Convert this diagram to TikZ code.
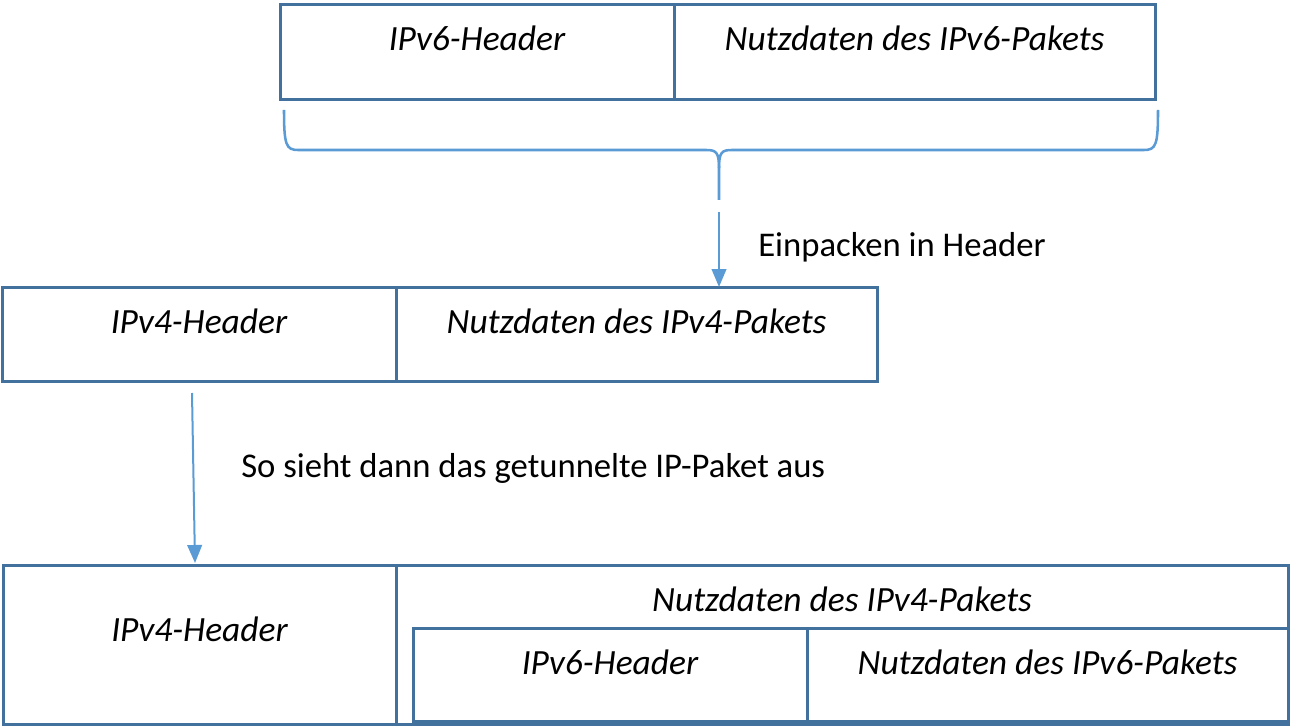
\documentclass[tikz,border=0pt]{standalone}
\usepackage{fontspec}
\setmainfont{Carlito}
\usepackage{tikz}
\usetikzlibrary{arrows.meta}
\usetikzlibrary{positioning}
\definecolor{rahmenblau}{RGB}{65,113,156}
\definecolor{pfeilblau}{RGB}{91,155,213}
\tikzset{
    feld/.style={draw=rahmenblau, line width=2.25pt, inner sep=0pt, outer sep=0pt,
        anchor=north west, text height=34.5pt, font=\fontsize{26.6}{31}\selectfont\itshape},
    kopf/.style={feld, minimum width=295.5pt},
    daten/.style={feld, minimum width=360.75pt},
    klammer/.style={draw=pfeilblau, line width=1.9pt},
    pfeil/.style={draw=pfeilblau, line width=1.5pt, -{Triangle[length=13.5pt,width=11pt]}},
    notiz/.style={anchor=base west, inner sep=0pt, font=\fontsize{26}{31}\selectfont},
}
\begin{document}
\begin{tikzpicture}[x=0.75pt, y=-0.75pt]
	\useasboundingbox (0,0) rectangle (1291,727);
	% IPv6-Paket
	\node[kopf, text depth=36.75pt] (v6kopf) at (280,5) {IPv6-Header};
	\node[daten, text depth=36.75pt, right=0pt of v6kopf] (v6daten) {Nutzdaten des IPv6-Pakets};
	\draw[klammer] (284,110) .. controls (284,145) and (286,150) .. (298,150) -- (706,150)
		.. controls (716,150) and (719,152) .. (719,168) -- (719,200) coordinate (spitze);
	\draw[klammer] (1158,110) .. controls (1158,145) and (1156,150) .. (1144,150) -- (732,150)
		.. controls (722,150) and (719,152) .. (719,168);
	% IPv4-Paket
	\node[kopf, text depth=36pt] (v4kopf) at (2,287) {IPv4-Header};
	\node[daten, text depth=36pt, right=0pt of v4kopf] (v4daten) {Nutzdaten des IPv4-Pakets};
	\coordinate (einpack) at (719,212);
	\draw[pfeil] (einpack) -- (einpack |- v4daten.north);
	\node[notiz] (einpacktext) at (758,257) {Einpacken in Header};
	\coordinate (tunnel) at (192,393);
	\coordinate (tunnelziel) at (195,563);
	\draw[pfeil] (tunnel) -- (tunnelziel);
	\node[notiz] (tunneltext) at (241,477) {So sieht dann das getunnelte IP-Paket aus};
	% getunneltes Paket
	\node[feld, minimum width=294.75pt, text height=57pt, text depth=62.25pt] (t4kopf) at (3,565) {IPv4-Header};
	\node[feld, minimum width=669pt, text depth=84.75pt] (t4daten) at (396,565) {Nutzdaten des IPv4-Pakets};
	\node[kopf, text depth=35.25pt] (t6kopf) at (413,628) {IPv6-Header};
	\node[daten, text depth=35.25pt, right=0pt of t6kopf] (t6daten) {Nutzdaten des IPv6-Pakets};
\end{tikzpicture}
\end{document}
